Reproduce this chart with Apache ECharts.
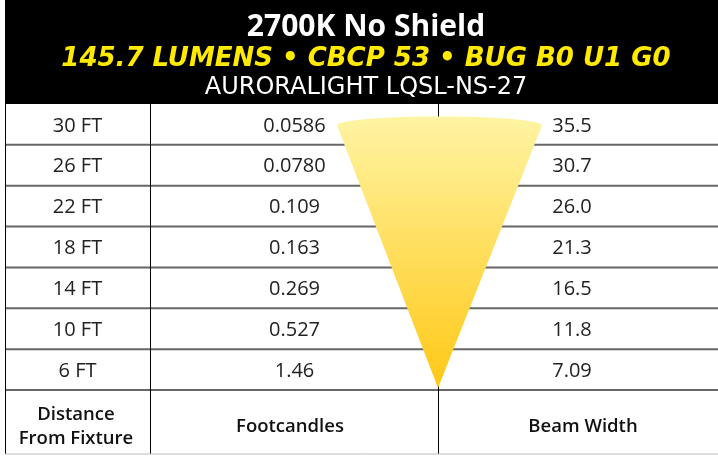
<!DOCTYPE html>
<html>
<head>
<meta charset="utf-8">
<script src="https://cdn.jsdelivr.net/npm/echarts@6/dist/echarts.min.js"></script>
<style>
  html, body { margin: 0; padding: 0; background: #fff; }
  #chart { width: 718px; height: 456px; }
</style>
</head>
<body>
<div id="chart"></div>
<script>
// table values
const distances = ['30 FT', '26 FT', '22 FT', '18 FT', '14 FT', '10 FT', '6 FT']
const footcandles = [0.0586, 0.078, 0.109, 0.163, 0.269, 0.527, 1.46]
const beamWidths = [35.5, 30.7, 26.0, 21.3, 16.5, 11.8, 7.09]
const columnTitles = ['Distance\nFrom Fixture', 'Footcandles', 'Beam Width']
const titleText = '2700K No Shield'
const subtitleText = '145.7 LUMENS • CBCP 53 • BUG B0 U1 G0'
const modelText = 'AURORALIGHT LQSL-NS-27'

// layout (x axis units = px inside the grid)
const colEdges = [0, 145, 433, 713]
const colCenters = [72.5, 289.5, 567]
const footCenters = [71, 285, 578]
const footerHeight = 64
const fontFamily = '"Open Sans", "Noto Sans", sans-serif'
const wideFont = '"DejaVu Sans", sans-serif'

const chart = echarts.init(document.getElementById('chart'))

const rows = distances.map((name) => [0, name])

function rowBox(api) {
  const c = api.coord([0, api.value(1)])
  const band = api.size([0, 1])[1]
  return { top: c[1] - band / 2, mid: c[1], bottom: c[1] + band / 2 }
}

function xpx(api, v) {
  return api.coord([v, 0])[0]
}

const option = {
  animation: false,
  title: [
    {
      text: titleText,
      left: 366,
      top: 12,
      padding: 0,
      textAlign: 'center',
      textStyle: { color: '#fff', fontSize: 30, lineHeight: 30, fontWeight: 'bold', fontFamily },
    },
    {
      text: subtitleText,
      left: 366,
      top: 46,
      padding: 0,
      textAlign: 'center',
      textStyle: { color: '#FFEA00', fontSize: 26, lineHeight: 26, fontStyle: 'italic', fontWeight: 'bold', fontFamily: wideFont },
    },
    {
      text: modelText,
      left: 366,
      top: 76,
      padding: 0,
      textAlign: 'center',
      textStyle: { color: '#fff', fontSize: 24, lineHeight: 24, fontWeight: 'normal', fontFamily: wideFont },
    },
  ],
  graphic: [
    {
      type: 'rect',
      z: -1,
      shape: { x: 5, y: 0, width: 713, height: 104 },
      style: { fill: '#000' },
    },
  ],
  grid: { left: 5, right: 0, top: 104, bottom: 66 },
  xAxis: { type: 'value', min: 0, max: 713, show: false },
  yAxis: { type: 'category', data: distances, inverse: true, show: false },
  series: [
    {
      // cell borders
      type: 'custom',
      z: 1,
      data: rows,
      encode: { x: 0, y: 1 },
      renderItem(params, api) {
        const r = rowBox(api)
        const x0 = xpx(api, colEdges[0])
        const x3 = xpx(api, colEdges[3])
        const last = params.dataIndex === distances.length - 1
        const children = [
          {
            type: 'line',
            shape: { x1: x0, y1: r.bottom, x2: x3, y2: r.bottom },
            style: { stroke: '#666', lineWidth: 2 },
          },
        ]
        const yEnd = last ? r.bottom + footerHeight : r.bottom
        colEdges.slice(0, 3).forEach((e) => {
          const x = Math.round(xpx(api, e)) + 0.5
          children.push({
            type: 'line',
            shape: { x1: x, y1: r.top, x2: x, y2: yEnd },
            style: { stroke: '#000', lineWidth: 1 },
          })
        })
        if (last) {
          children.push({
            type: 'line',
            shape: { x1: x0, y1: yEnd, x2: x3, y2: yEnd },
            style: { stroke: '#bbb', lineWidth: 1 },
          })
        }
        return { type: 'group', children }
      },
    },
    {
      // light cone
      type: 'custom',
      z: 2,
      data: [[0, distances[0]]],
      encode: { x: 0, y: 1 },
      renderItem(params, api) {
        const first = rowBox(api)
        const lastY = api.coord([0, distances.length - 1])[1] + api.size([0, 1])[1] / 2
        const x1 = xpx(api, 332)
        const x2 = xpx(api, 537)
        const ax = xpx(api, colEdges[2])
        const yTop = first.mid + 1
        const ay = lastY - 2
        return {
          type: 'path',
          shape: {
            pathData: `M${x1},${yTop} A${(x2 - x1) / 2},9 0 0 1 ${x2},${yTop} L${ax},${ay} Z`,
          },
          style: {
            fill: new echarts.graphic.LinearGradient(0, 0, 0, 1, [
              { offset: 0, color: '#FFF4A4' },
              { offset: 1, color: '#FFC815' },
            ]),
          },
        }
      },
    },
    {
      // cell texts
      type: 'custom',
      z: 3,
      data: rows,
      encode: { x: 0, y: 1 },
      renderItem(params, api) {
        const i = params.dataIndex
        const r = rowBox(api)
        const values = [distances[i], footcandles[i].toPrecision(3), beamWidths[i].toPrecision(3)]
        const children = values.map((t, k) => ({
          type: 'text',
          style: {
            text: t,
            x: xpx(api, colCenters[k]),
            y: r.mid + 1.5,
            align: 'center',
            verticalAlign: 'middle',
            fill: '#222',
            fontSize: 20,
            fontFamily,
          },
        }))
        if (i === distances.length - 1) {
          columnTitles.forEach((t, k) => {
            children.push({
              type: 'text',
              style: {
                text: t,
                x: xpx(api, footCenters[k]),
                y: r.bottom + 37,
                align: 'center',
                verticalAlign: 'middle',
                fill: '#111',
                fontSize: 18.5,
                fontWeight: 600,
                lineHeight: 24,
                fontFamily,
              },
            })
          })
        }
        return { type: 'group', children }
      },
    },
  ],
}

chart.setOption(option)
</script>
</body>
</html>
